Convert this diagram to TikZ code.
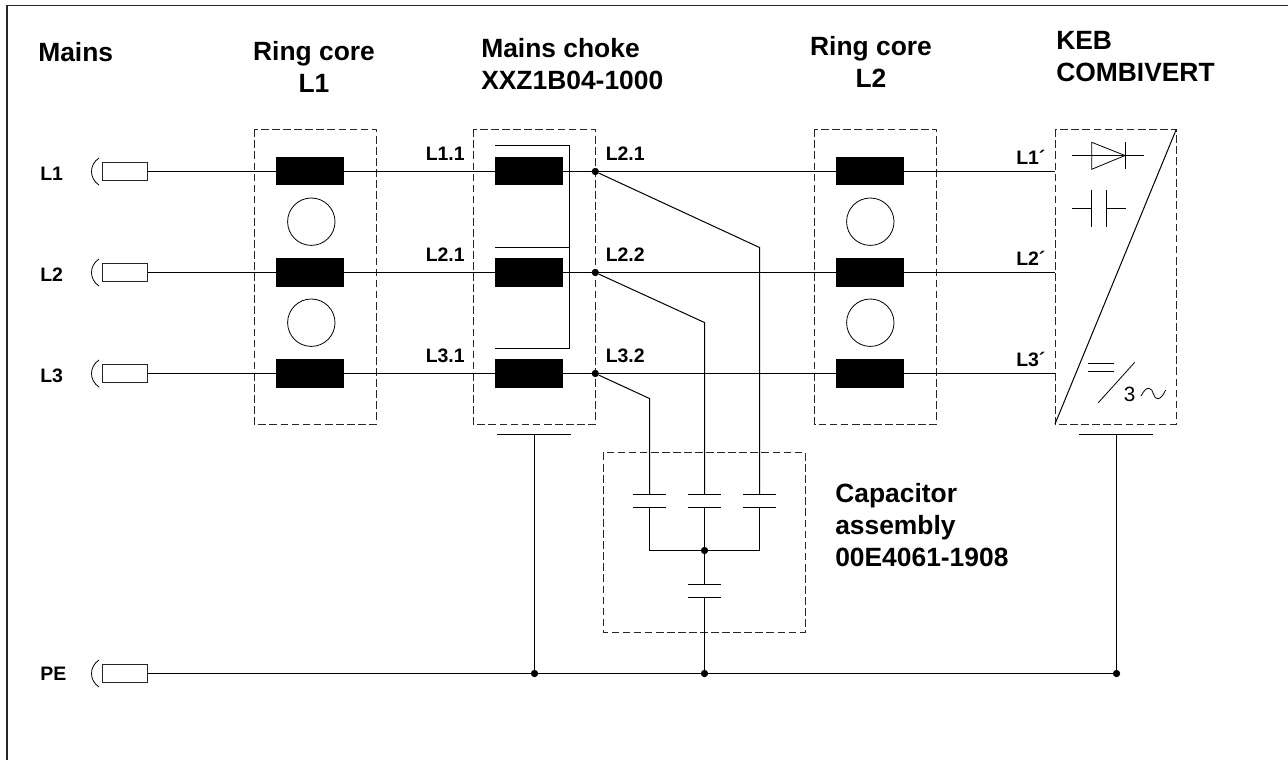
\documentclass[tikz,border=0pt]{standalone}
\usepackage{fontspec}
\setmainfont{Liberation Sans}
\tikzset{
  wire/.style={line width=0.75pt,black},
  thinw/.style={line width=0.6pt,black},
  dbox/.style={draw=black!85,line width=0.75pt,dash pattern=on 5.8pt off 2.5pt},
  coil/.style={fill=black,draw=none},
  termbox/.style={draw=black!85,line width=0.75pt,fill=white},
  dotnode/.style={circle,fill=black,inner sep=0pt,minimum size=5.5pt},
  head/.style={font=\fontsize{19.8}{24}\selectfont\bfseries,inner sep=0pt},
  lab/.style={font=\fontsize{14.6}{18}\selectfont\bfseries,inner sep=0pt,anchor=base west}
}
\begin{document}
\begin{tikzpicture}[x=0.75pt,y=-0.75pt]
\useasboundingbox (0,0) rectangle (1288,760);
\draw[line width=1.1pt,black!85] (7,760) -- (7,5.7) -- (1288,5.7);
% dashed boxes
\draw[dbox] (254.3,129.3) rectangle (376.3,424);
\draw[dbox] (473.3,129.3) rectangle (595.3,424);
\draw[dbox] (814.5,129.3) rectangle (936.5,424);
\draw[dbox] (1055,129.3) rectangle (1176.3,424);
\draw[dbox] (603,452.7) rectangle (805.3,632.3);
% junctions
\node[dotnode] (j1) at (595.3,171.5) {};
\node[dotnode] (j2) at (595.3,272.5) {};
\node[dotnode] (j3) at (595.3,373.5) {};
\node[dotnode] (jc) at (704.5,550.5) {};
\node[dotnode] (p1) at (534.5,673.5) {};
\node[dotnode] (p2) at (704.5,673.5) {};
\node[dotnode] (p3) at (1116.5,673.5) {};
% terminals and mains wires
\foreach \n/\y in {1/171.5,2/272.5,3/373.5,4/673.5}{
  \node[termbox,minimum width=33.75pt,minimum height=13.2pt,inner sep=0pt] (t\n) at (124.8,\y) {};
  \draw[thinw] (99,\y-13.5) .. controls (89,\y-7) and (89,\y+7) .. (99,\y+13.5);
}
\coordinate (e1) at (1055,171.5);
\coordinate (e2) at (1055,272.5);
\coordinate (e3) at (1055,373.5);
\foreach \n in {1,2,3}{\draw[wire] (t\n.east) -- (e\n);}
\draw[wire] (t4.east) -- (p3);
% coils
\foreach \x in {275.7,494.7,836}{
  \foreach \a/\b in {156.7/185.3,258/286.7,359/388}{
    \fill[coil] (\x,\a) rectangle (\x+68.3,\b);
  }
}
% ring circles
\foreach \x in {311.3,870.3}{
  \draw[thinw] (\x,221.7) circle (23.7);
  \draw[thinw] (\x,322.7) circle (23.7);
}
% choke bar
\draw[wire] (495,145.5) -- (569.5,145.5) -- (569.5,348.5) -- (495,348.5);
\draw[wire] (495,247.5) -- (569.5,247.5);
% capacitor branches
\draw[wire] (j1) -- (759.5,247.5) -- (759.5,494.5);
\draw[wire] (j2) -- (704.5,322.5) -- (704.5,494.5);
\draw[wire] (j3) -- (649.5,398.5) -- (649.5,494.5);
\foreach \x in {649.5,704.5,759.5}{
  \draw[wire] (\x-16.7,494.5) -- (\x+16.7,494.5);
  \draw[wire] (\x-16.7,507.5) -- (\x+16.7,507.5);
}
\draw[wire] (649.5,507.5) -- (649.5,550.5) -- (759.5,550.5) -- (759.5,507.5);
\draw[wire] (704.5,507.5) -- (jc);
\draw[wire] (jc) -- (704.5,584.5);
\draw[wire] (687.8,584.5) -- (721.2,584.5);
\draw[wire] (687.8,597.5) -- (721.2,597.5);
\draw[wire] (704.5,597.5) -- (p2);
% PE bars
\draw[wire] (497,434.5) -- (571,434.5);
\draw[wire] (534.5,434.5) -- (p1);
\draw[wire] (1079,434.5) -- (1153,434.5);
\draw[wire] (1116.5,434.5) -- (p3);
% converter symbols
\draw[wire] (1055,424) -- (1176.3,129.3);
\draw[thinw] (1072.3,155.5) -- (1144,155.5);
\draw[thinw] (1091.7,142.3) -- (1125,155.5) -- (1091.7,169.3) -- cycle;
\draw[thinw] (1125,142.3) -- (1125,169.3);
\draw[thinw] (1071.7,208.5) -- (1091.7,208.5);
\draw[thinw] (1091.7,189.7) -- (1091.7,226.7);
\draw[thinw] (1106,189.7) -- (1106,226.7);
\draw[thinw] (1106,208.5) -- (1126.3,208.5);
\draw[thinw] (1088,363) -- (1114,363);
\draw[thinw] (1088,371.7) -- (1114,371.7);
\draw[thinw] (1098.3,402.7) -- (1134.7,362.3);
\node[inner sep=0pt,font=\fontsize{15.5}{18}\selectfont] (three) at (1129.7,394) {3};
\draw[thinw] (1141,396) .. controls (1147,384) and (1152,388) .. (1153.5,394) .. controls (1155,400) and (1160,402) .. (1165.7,390);
% headers
\node[head,anchor=base west] (hm) at (38,61.5) {Mains};
\node[head,anchor=base] (hr1a) at (314,60) {Ring core};
\node[head,anchor=base] (hr1b) at (314,92) {L1};
\node[head,anchor=base west] (hc1) at (481,57.3) {Mains choke};
\node[head,anchor=base west] (hc2) at (481,89.3) {XXZ1B04-1000};
\node[head,anchor=base] (hr2a) at (871,55) {Ring core};
\node[head,anchor=base] (hr2b) at (871,87) {L2};
\node[head,anchor=base west] (hk1) at (1056,49.5) {KEB};
\node[head,anchor=base west] (hk2) at (1056,81.5) {COMBIVERT};
\node[head,anchor=base west] (hcap1) at (835,502.7) {Capacitor};
\node[head,anchor=base west] (hcap2) at (835,534.7) {assembly};
\node[head,anchor=base west] (hcap3) at (835,566.7) {00E4061-1908};
% labels
\node[lab] (ma) at (40,180) {L1};
\node[lab] (mb) at (40,281) {L2};
\node[lab] (mc) at (40,382) {L3};
\node[lab] (md) at (40,680) {PE};
\node[lab] (l11) at (425.5,160) {L1.1};
\node[lab] (l21) at (425.5,261.5) {L2.1};
\node[lab] (l31) at (425.5,362) {L3.1};
\node[lab] (r21) at (605.5,160) {L2.1};
\node[lab] (r22) at (605.5,261.5) {L2.2};
\node[lab] (r32) at (605.5,362) {L3.2};
\node[lab] (k1) at (1016,164.7) {L1´};
\node[lab] (k2) at (1016,265.7) {L2´};
\node[lab] (k3) at (1016,366.7) {L3´};
\end{tikzpicture}
\end{document}
